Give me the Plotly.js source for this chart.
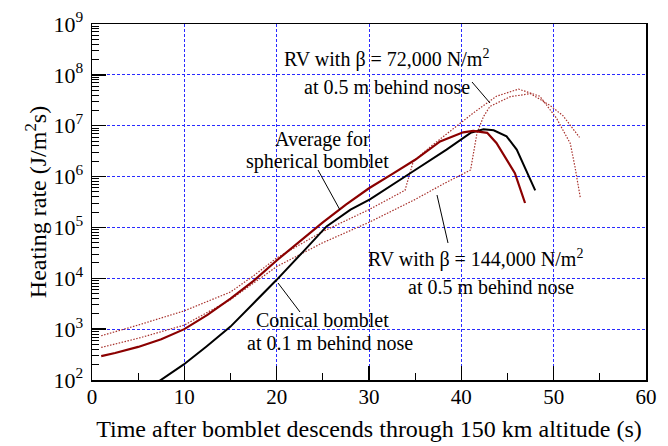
<!DOCTYPE html>
<html>
<head>
<meta charset="utf-8">
<script src="https://cdn.plot.ly/plotly-3.0.1.min.js"></script>
<style>html,body{margin:0;padding:0;background:#fff;}#chart{width:668px;height:446px;}</style>
</head>
<body>
<div id="chart"></div>
<script>
// Average for spherical bomblet
const timeAvg = [1, 2.5, 5, 7.5, 10, 12.5, 15, 17.5, 20, 22.5, 25, 27.5, 30, 32.5, 35, 37.7, 40.2, 41.3, 42.8, 43.8, 44.9, 45.8, 46.9];
const rateAvg = [295, 339, 447, 631, 1000, 1905, 3981, 8913, 22390, 52480, 1.26e5, 2.82e5, 5.89e5, 1.12e6, 2.14e6, 4.90e6, 7.41e6, 7.94e6, 7.24e6, 4.57e6, 2.14e6, 1.17e6, 3.02e5];
// Conical bomblet at 0.1 m behind nose
const timeCone = [7.2, 9.9, 12.4, 15, 17.5, 20, 22.9, 25.4, 28, 30.1, 34.5, 38.4, 41, 42.4, 43.5, 44.9, 46, 47.5, 48];
const rateCone = [93, 200, 457, 1122, 3236, 9333, 33880, 1.047e5, 2.239e5, 3.548e5, 1.175e6, 3.39e6, 7.24e6, 8.51e6, 8.13e6, 6.17e6, 3.39e6, 8.71e5, 5.37e5];
// RV with beta = 72,000 N/m2
const timeRV72 = [1, 5, 10, 15, 17.5, 20, 25, 30, 33.9, 34.8, 36.6, 39.5, 41.3, 43.8, 46.2, 48.5, 50.3, 51.8, 52.3, 52.9];
const rateRV72 = [741, 1202, 2291, 5370, 1.12e4, 2.51e4, 8.32e4, 2.24e5, 5.37e5, 2.0e6, 3.8e6, 9.8e6, 1.78e7, 3.8e7, 5.25e7, 3.8e7, 1.41e7, 4.47e6, 1.58e6, 3.72e5];
// RV with beta = 144,000 N/m2
const timeRV144 = [1, 5, 10, 15, 20, 25, 30, 35, 38, 41, 41.7, 42.4, 43.1, 45.3, 47.5, 49.6, 51.0, 52.8];
const rateRV144 = [437, 661, 1202, 3802, 1.70e4, 5.01e4, 1.26e5, 3.55e5, 7.08e5, 1.35e6, 7.24e6, 1.51e7, 2.40e7, 3.72e7, 4.27e7, 2.51e7, 1.58e7, 5.89e6];

const xTickVals = [0, 10, 20, 30, 40, 50, 60];
const yTickVals = [1e2, 1e3, 1e4, 1e5, 1e6, 1e7, 1e8, 1e9];
const yTickText = ['10<sup>2</sup>', '10<sup>3</sup>', '10<sup>4</sup>', '10<sup>5</sup>', '10<sup>6</sup>', '10<sup>7</sup>', '10<sup>8</sup>', '10<sup>9</sup>'];

const yMinor = [];
for (let e = 2; e < 9; e++) for (let m = 2; m <= 9; m++) yMinor.push(m * Math.pow(10, e));

const serif = 'Liberation Serif, Times New Roman, serif';
const dark = '#8b0000';
const dotc = '#a8322d';

const traces = [
  {x: timeRV72, y: rateRV72, mode: 'lines', line: {color: dotc, width: 1.2, dash: '1.5px,1.5px'}, name: 'RV 72,000'},
  {x: timeRV144, y: rateRV144, mode: 'lines', line: {color: dotc, width: 1.2, dash: '1.5px,1.5px'}, name: 'RV 144,000'},
  {x: timeCone, y: rateCone, mode: 'lines', line: {color: '#000000', width: 2}, name: 'Conical'},
  {x: timeAvg, y: rateAvg, mode: 'lines', line: {color: dark, width: 2.2}, name: 'Average'}
];

// plot area in pixels: left 92, right 646, top 24, bottom 380
const L = 92, R = 646, T = 24, B = 380;
const px = v => (v - L) / (R - L);
const py = v => (B - v) / (B - T);

function label(text, cx, cy) {
  return {xref: 'paper', yref: 'paper', x: px(cx), y: py(cy), text: text, showarrow: false,
    xanchor: 'center', yanchor: 'middle', font: {family: serif, size: 20, color: '#000'}};
}
function leader(x0, y0, x1, y1) {
  return {type: 'line', xref: 'paper', yref: 'paper', x0: px(x0), y0: py(y0), x1: px(x1), y1: py(y1),
    line: {color: '#000', width: 1}};
}

const layout = {
  width: 668, height: 446,
  margin: {l: L, r: 668 - R, t: T, b: 446 - B},
  paper_bgcolor: '#fff', plot_bgcolor: '#fff',
  showlegend: false,
  font: {family: serif, color: '#000'},
  xaxis: {
    range: [0, 60], tickvals: xTickVals, ticks: 'inside', ticklen: 14, tickwidth: 1.3, tickcolor: '#000',
    minor: {dtick: 5, ticks: 'inside', ticklen: 7, tickwidth: 1, tickcolor: '#000', showgrid: false},
    showline: true, linecolor: '#000', linewidth: 1.5, mirror: true, zeroline: false,
    showgrid: true, gridcolor: '#2a2aff', gridwidth: 1, griddash: '3px,2px',
    tickfont: {family: serif, size: 21, color: '#000'}, ticklabelstandoff: -3,
    title: {text: 'Time after bomblet descends through 150 km altitude (s)', font: {family: serif, size: 24, color: '#000'}, standoff: 12}
  },
  yaxis: {
    type: 'log', range: [2, 9], tickvals: yTickVals, ticktext: yTickText,
    ticks: 'inside', ticklen: 14, tickwidth: 1.3, tickcolor: '#000',
    minor: {tickvals: yMinor, ticks: 'inside', ticklen: 7, tickwidth: 1, tickcolor: '#000', showgrid: false},
    showline: true, linecolor: '#000', linewidth: 1.5, mirror: true, zeroline: false,
    showgrid: true, gridcolor: '#2a2aff', gridwidth: 1, griddash: '3px,2px',
    tickfont: {family: serif, size: 22, color: '#000'}, ticklabelstandoff: 3,
    title: {text: 'Heating rate (J/m<sup>2</sup>s)', font: {family: serif, size: 24, color: '#000'}, standoff: 0}
  },
  annotations: [
    label('RV with β = 72,000 N/m<sup>2</sup>', 386, 58),
    label('at 0.5 m behind nose', 387, 87),
    label('Average for', 322, 139),
    label('spherical bomblet', 317, 161),
    label('RV with β = 144,000 N/m<sup>2</sup>', 475, 258),
    label('at 0.5 m behind nose', 491, 287),
    label('Conical bomblet', 322, 320),
    label('at 0.1 m behind nose', 330, 343)
  ],
  shapes: [
    leader(472, 82, 490, 103),
    leader(318, 170, 340, 210),
    leader(437, 195, 448, 243),
    leader(278, 283, 300, 312)
  ]
};

Plotly.newPlot('chart', traces, layout, {displayModeBar: false, staticPlot: true});
</script>
</body>
</html>
